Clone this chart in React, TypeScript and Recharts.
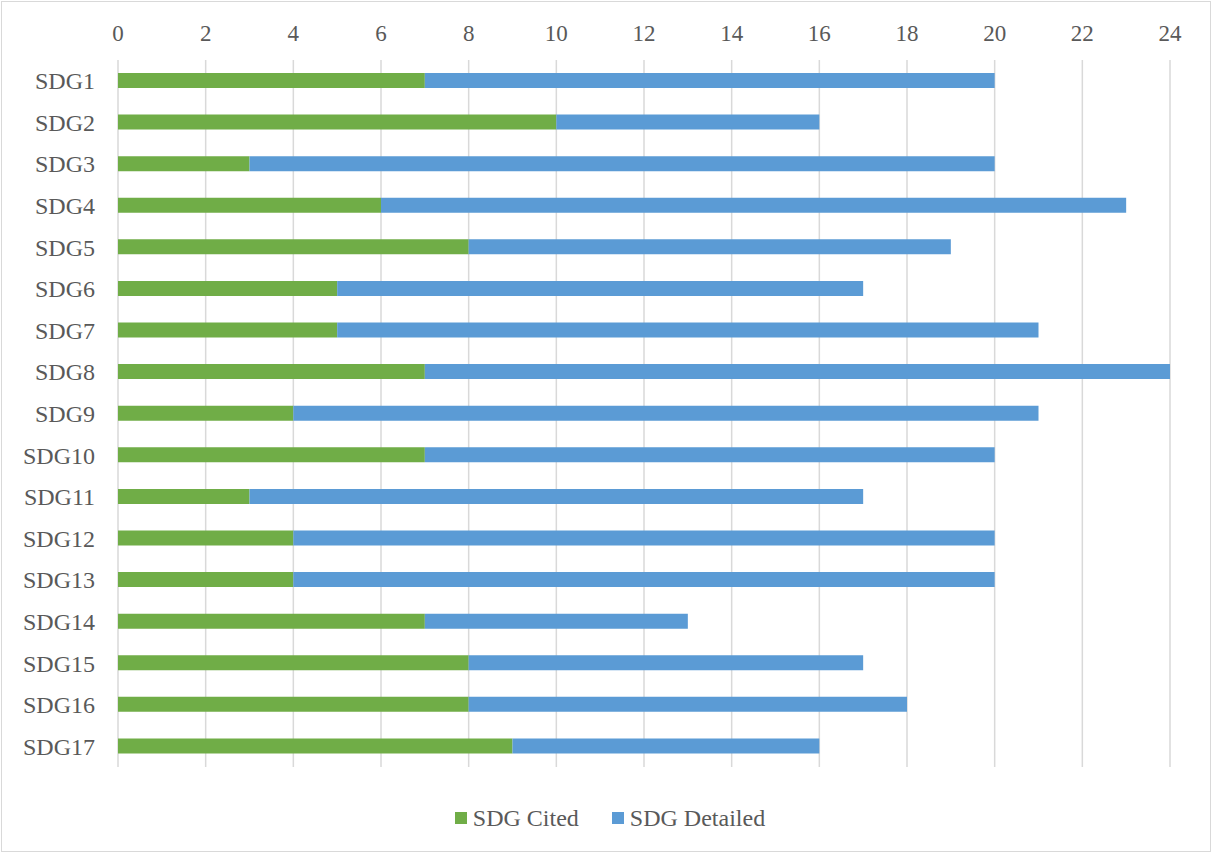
import React from 'react';
import { BarChart, Bar, XAxis, YAxis, CartesianGrid, Legend } from 'recharts';

const categories = [
  'SDG1', 'SDG2', 'SDG3', 'SDG4', 'SDG5', 'SDG6', 'SDG7', 'SDG8', 'SDG9',
  'SDG10', 'SDG11', 'SDG12', 'SDG13', 'SDG14', 'SDG15', 'SDG16', 'SDG17',
];
const cited = [7, 10, 3, 6, 8, 5, 5, 7, 4, 7, 3, 4, 4, 7, 8, 8, 9];
const detailed = [13, 6, 17, 17, 11, 12, 16, 17, 17, 13, 14, 16, 16, 6, 9, 10, 7];
const xTicks = [0, 2, 4, 6, 8, 10, 12, 14, 16, 18, 20, 22, 24];

const data = categories.map((name, i) => ({ name, cited: cited[i], detailed: detailed[i] }));

const FONT = "'Liberation Serif', Tinos, 'DejaVu Serif', serif";
const TEXT = '#595959';
const GREEN = '#70AD47';
const BLUE = '#5B9BD5';

const LegendContent = (props: any) => {
  const items = props.payload || [];
  return (
    <div style={{ height: 86, display: 'flex', justifyContent: 'center', alignItems: 'flex-start', paddingTop: 38, paddingLeft: 50, boxSizing: 'border-box' }}>
      {items.map((it: any, i: number) => (
        <div key={i} style={{ display: 'flex', alignItems: 'center', marginLeft: i ? 33 : 0 }}>
          <span style={{ width: 12, height: 12, background: it.color, display: 'inline-block', marginRight: 6 }} />
          <span style={{ fontFamily: FONT, fontSize: 24, color: TEXT, lineHeight: '26px' }}>{it.value}</span>
        </div>
      ))}
    </div>
  );
};

export default function App() {
  return (
    <div style={{ position: 'absolute', left: 0, top: 0, width: 1212, height: 853, background: '#fff', fontFamily: FONT }}>
      <BarChart
        width={1212}
        height={853}
        data={data}
        layout="vertical"
        margin={{ top: 30, right: 42, left: 0, bottom: 0 }}
        barCategoryGap={0}
        style={{ fontFamily: FONT }}
      >
        <CartesianGrid horizontal={false} stroke="#d9d9d9" strokeWidth={1.5} />
        <XAxis
          type="number"
          orientation="top"
          domain={[0, 24]}
          ticks={xTicks}
          axisLine={false}
          tickLine={false}
          tickMargin={13}
          height={30}
          tick={{ fill: TEXT, fontSize: 23, style: { fontFamily: FONT } }}
        />
        <YAxis
          type="category"
          dataKey="name"
          width={118}
          axisLine={false}
          tickLine={false}
          tickMargin={17}
          interval={0}
          tick={{ fill: TEXT, fontSize: 24, style: { fontFamily: FONT } }}
        />
        <Legend verticalAlign="bottom" content={LegendContent} />
        <Bar dataKey="cited" name="SDG Cited" stackId="a" fill={GREEN} barSize={15} isAnimationActive={false} />
        <Bar dataKey="detailed" name="SDG Detailed" stackId="a" fill={BLUE} barSize={15} isAnimationActive={false} />
      </BarChart>
      <div style={{ position: 'absolute', left: 1, top: 1, right: 1, bottom: 1, border: '1.5px solid #d9d9d9', pointerEvents: 'none' }} />
    </div>
  );
}
